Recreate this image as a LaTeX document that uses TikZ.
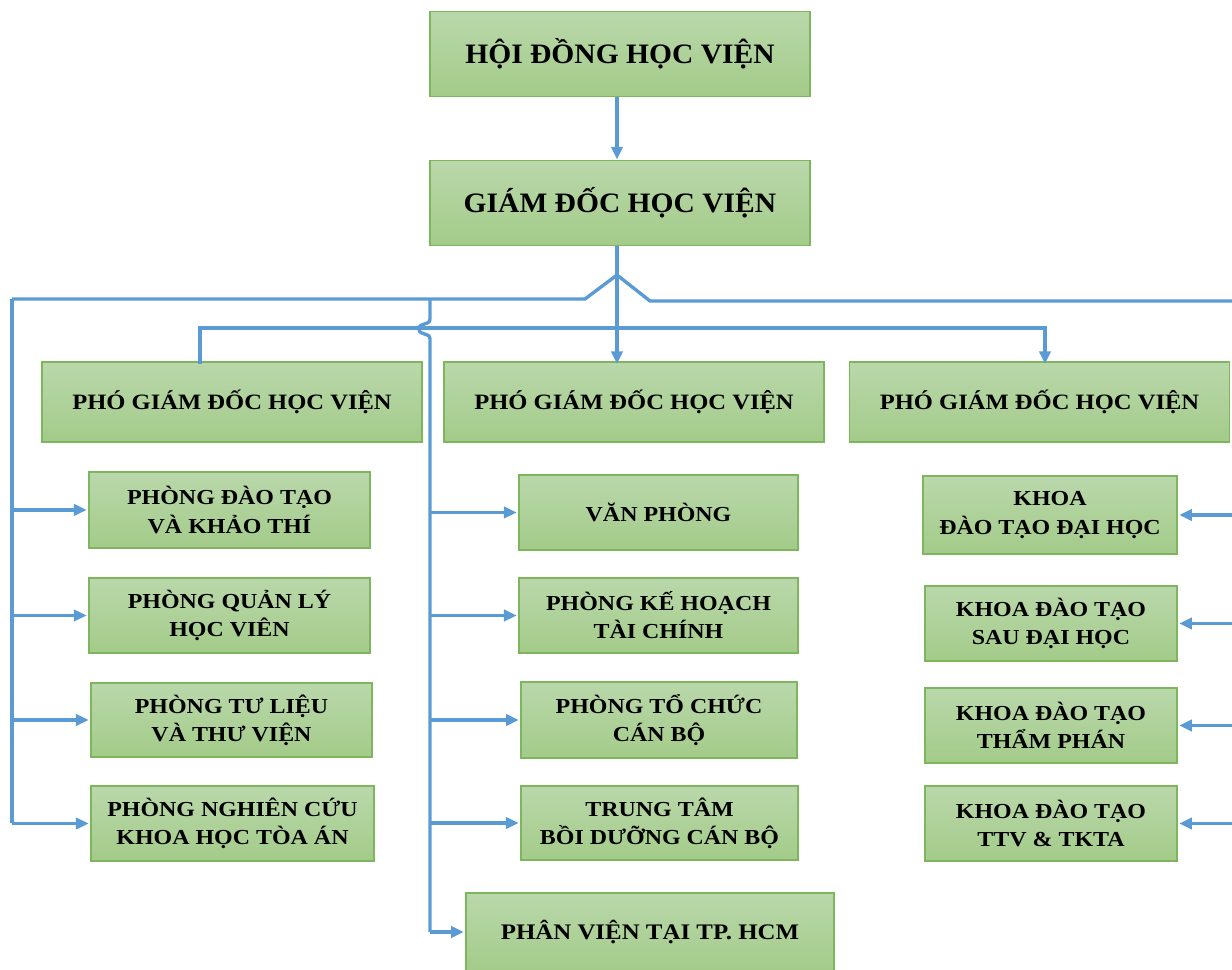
\documentclass[tikz,border=0pt]{standalone}
\usepackage{fontspec}
\setmainfont{Liberation Serif}[FakeStretch=1.12]
\newfontfamily\headfont{Liberation Serif}[FakeStretch=1.05]
\usetikzlibrary{arrows.meta,positioning}
\definecolor{boxtop}{HTML}{BAD8AB}
\definecolor{boxbot}{HTML}{A3CB89}
\definecolor{boxline}{HTML}{7DB65C}
\definecolor{linkblue}{HTML}{5B9BD5}

\begin{document}
\begin{tikzpicture}[
    x=0.025cm, y=-0.025cm,
    box/.style={rectangle, draw=boxline, line width=1.2pt, top color=boxtop, bottom color=boxbot,
        align=center, font=\bfseries\fontsize{15.2}{20}\selectfont, inner sep=2pt},
    headbox/.style={box, minimum width=9.5cm, minimum height=2.13cm, font=\headfont\bfseries\fontsize{20}{24}\selectfont},
    pgdbox/.style={box, minimum width=9.5cm, minimum height=2cm, font=\bfseries\fontsize{15.6}{20}\selectfont},
    link/.style={draw=linkblue, line width=2.4pt},
    >={Triangle[length=9pt, width=8pt]}
]
    \useasboundingbox (0,0) rectangle (1232,970);

    % Top of the chart
    \node[headbox] (hoidong) at (620,54) {HỘI ĐỒNG HỌC VIỆN};
    \node[headbox] (giamdoc) at (620,203) {GIÁM ĐỐC HỌC VIỆN};

    % Deputy directors
    \node[pgdbox] (pgd1) at (232,402) {PHÓ GIÁM ĐỐC HỌC VIỆN};
    \node[pgdbox] (pgd2) at (634,402) {PHÓ GIÁM ĐỐC HỌC VIỆN};
    \node[pgdbox] (pgd3) at (1039.5,402) {PHÓ GIÁM ĐỐC HỌC VIỆN};

    % Left column
    \node[box, minimum width=7.03cm, minimum height=1.9cm] (phong1) at (229.5,510) {PHÒNG ĐÀO TẠO\\VÀ KHẢO THÍ};
    \node[box, minimum width=7.03cm, minimum height=1.88cm] (phong2) at (229.5,615.5) {PHÒNG QUẢN LÝ\\HỌC VIÊN};
    \node[box, minimum width=7.03cm, minimum height=1.85cm] (phong3) at (231.5,720) {PHÒNG TƯ LIỆU\\VÀ THƯ VIỆN};
    \node[box, minimum width=7.08cm, minimum height=1.88cm] (phong4) at (232.5,823.5) {PHÒNG NGHIÊN CỨU\\KHOA HỌC TÒA ÁN};

    % Middle column
    \node[box, minimum width=6.98cm, minimum height=1.88cm] (vanphong) at (658.5,512.5) {VĂN PHÒNG};
    \node[box, minimum width=6.98cm, minimum height=1.88cm] (khtc) at (658.5,615.5) {PHÒNG KẾ HOẠCH\\TÀI CHÍNH};
    \node[box, minimum width=6.9cm, minimum height=1.9cm] (tccb) at (659,720) {PHÒNG TỔ CHỨC\\CÁN BỘ};
    \node[box, minimum width=6.93cm, minimum height=1.85cm] (ttbd) at (659.5,823) {TRUNG TÂM\\BỒI DƯỠNG CÁN BỘ};
    \node[box, minimum width=9.2cm, minimum height=1.95cm, font=\bfseries\fontsize{15.8}{20}\selectfont] (phanvien) at (650,932) {PHÂN VIỆN TẠI TP. HCM};

    % Right column
    \node[box, minimum width=6.35cm, minimum height=1.95cm] (khoa1) at (1050,515) {KHOA\\ĐÀO TẠO ĐẠI HỌC};
    \node[box, minimum width=6.3cm, minimum height=1.88cm] (khoa2) at (1051,623.5) {KHOA ĐÀO TẠO\\SAU ĐẠI HỌC};
    \node[box, minimum width=6.3cm, minimum height=1.88cm] (khoa3) at (1051,725.5) {KHOA ĐÀO TẠO\\THẨM PHÁN};
    \node[box, minimum width=6.3cm, minimum height=1.88cm] (khoa4) at (1051,823.5) {KHOA ĐÀO TẠO\\TTV \& TKTA};

    % Junction points
    \coordinate (apex) at (617,275);
    \coordinate (leftbend) at (585,299);
    \coordinate (rightbend) at (650,301);
    \coordinate (lline) at (12,299);
    \coordinate (rline) at (1238,301);
    \coordinate (midline) at (430,299);
    \coordinate (bar1) at (200,328);
    \coordinate (bar2) at (1045,328);

    % Connectors
    \draw[link, ->] (hoidong.south -| apex) -- (giamdoc.north -| apex);
    \draw[link, ->] (giamdoc.south -| apex) -- ([yshift=-2pt]pgd2.north -| apex);
    \draw[link] (lline) -- (leftbend) -- (apex) -- (rightbend) -- (rline);
    \draw[link, ->] ([yshift=-2pt]pgd1.north -| bar1) -- (bar1) -- (bar2) -- ([yshift=-2pt]pgd3.north -| bar2);
    \draw[link] (lline) -- (lline |- phong4.west);
    \draw[link] (rline) -- (rline |- khoa4.east);
    \draw[link] (midline) -- (430,319) .. controls (430,326) and (419,322) .. (419,329)
        .. controls (419,336) and (430,332) .. (430,339) -- (midline |- phanvien.west);

    \foreach \unit in {phong1,phong2,phong3,phong4}
        \draw[link, ->] (lline |- \unit.west) -- ([xshift=-1pt]\unit.west);
    \foreach \unit in {vanphong,khtc,tccb,ttbd,phanvien}
        \draw[link, ->] (midline |- \unit.west) -- ([xshift=-1pt]\unit.west);
    \foreach \unit in {khoa1,khoa2,khoa3,khoa4}
        \draw[link, ->] (rline |- \unit.east) -- ([xshift=1pt]\unit.east);
\end{tikzpicture}
\end{document}
